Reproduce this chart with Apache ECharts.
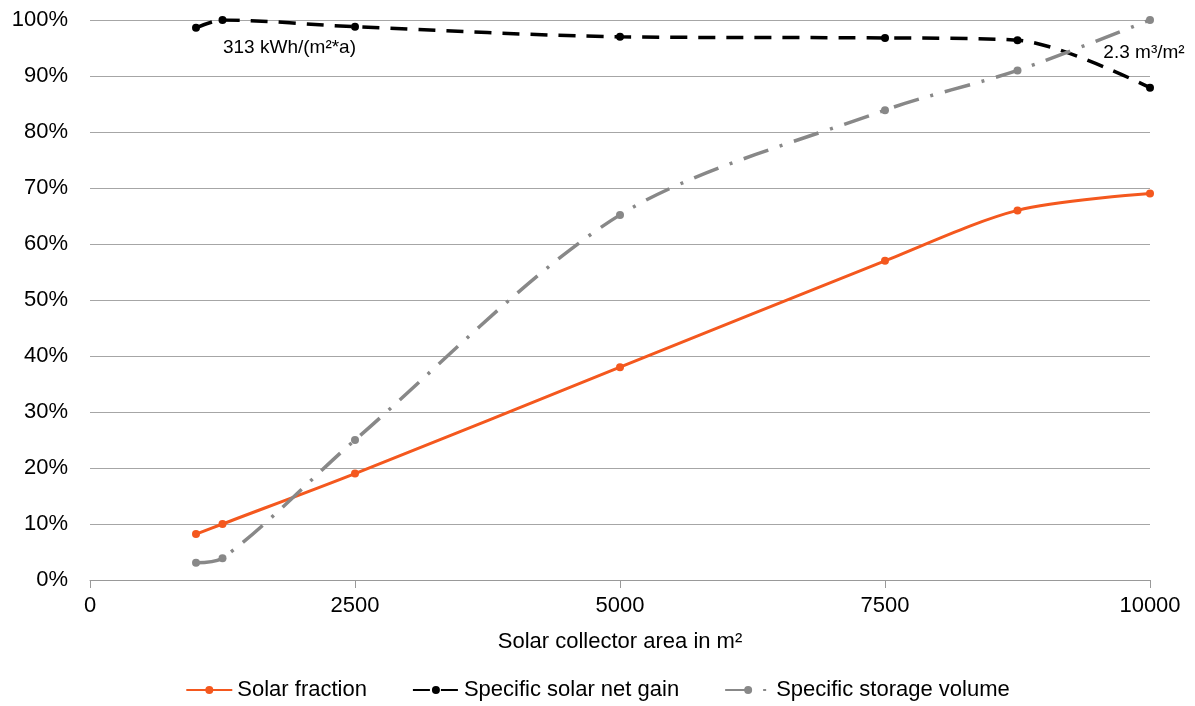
<!DOCTYPE html>
<html><head><meta charset="utf-8">
<script src="https://cdn.jsdelivr.net/npm/echarts@6/dist/echarts.min.js"></script>
<style>html,body{margin:0;padding:0;background:#fff}#c{width:1195px;height:706px}</style>
</head><body><div id="c"></div>
<script>
var areas = [1000, 1250, 2500, 5000, 7500, 8750, 10000];
var solarFraction = [8.2, 10, 19, 38, 57, 66, 69];
var netGain = [98.6, 100, 98.8, 97, 96.8, 96.4, 87.9];
var storageVolume = [3.1, 3.9, 25, 65.2, 83.9, 91, 100];
var yTicks = [0, 10, 20, 30, 40, 50, 60, 70, 80, 90, 100];
var xTicks = [0, 2500, 5000, 7500, 10000];
var netGainNote = '313 kWh/(m²*a)';
var storageNote = '2.3 m³/m²';

var font = 'Liberation Sans';
function pairs(vals, labelIdx, labelText, offset) {
  return areas.map(function (a, i) {
    var d = { value: [a, vals[i]] };
    if (i === labelIdx) {
      d.label = { show: true, formatter: labelText, position: 'bottom', offset: offset,
        color: '#000', fontSize: 19, fontFamily: font };
    }
    return d;
  });
}

var chart = echarts.init(document.getElementById('c'));
chart.setOption({
  animation: false,
  grid: { left: 90, right: 45, top: 20, bottom: 126 },
  xAxis: {
    type: 'value', min: 0, max: 10000, interval: 2500,
    name: 'Solar collector area in m²', nameLocation: 'middle', nameGap: 51,
    nameTextStyle: { fontSize: 22, color: '#000', fontFamily: font },
    axisLine: { show: true, lineStyle: { color: '#999', width: 1 } },
    axisTick: { show: true, length: 8, inside: false, lineStyle: { color: '#999' } },
    axisLabel: { fontSize: 22, color: '#000', fontFamily: font, margin: 15,
      formatter: function (v) { return String(v); } },
    splitLine: { show: false }
  },
  yAxis: {
    type: 'value', min: 0, max: 100, interval: 10,
    axisLine: { show: false }, axisTick: { show: false },
    axisLabel: { fontSize: 22, color: '#000', fontFamily: font, margin: 22,
      formatter: function (v) { return v + '%'; } },
    splitLine: { lineStyle: { color: '#a6a6a6', width: 1 } }
  },
  legend: {
    bottom: 0, left: 'center', itemWidth: 46, itemHeight: 10, itemGap: 45,
    textStyle: { fontSize: 22, color: '#000', fontFamily: font },
    data: ['Solar fraction', 'Specific solar net gain', 'Specific storage volume']
  },
  series: [
    { name: 'Solar fraction', type: 'line', smooth: 0.3, data: pairs(solarFraction, -1),
      symbol: 'circle', symbolSize: 8, color: '#f4581e',
      lineStyle: { width: 3, color: '#f4581e' }, itemStyle: { color: '#f4581e' } },
    { name: 'Specific solar net gain', type: 'line', smooth: 0.3,
      data: pairs(netGain, 1, netGainNote, [67, 9]),
      symbol: 'circle', symbolSize: 8, color: '#000',
      lineStyle: { width: 3.5, color: '#000', type: [17, 11] }, itemStyle: { color: '#000' } },
    { name: 'Specific storage volume', type: 'line', smooth: 0.3,
      data: pairs(storageVolume, 6, storageNote, [-6, 14]),
      symbol: 'circle', symbolSize: 8, color: '#888',
      lineStyle: { width: 3.5, color: '#888', type: [26, 12, 3, 12] }, itemStyle: { color: '#888' } }
  ]
});
</script></body></html>
